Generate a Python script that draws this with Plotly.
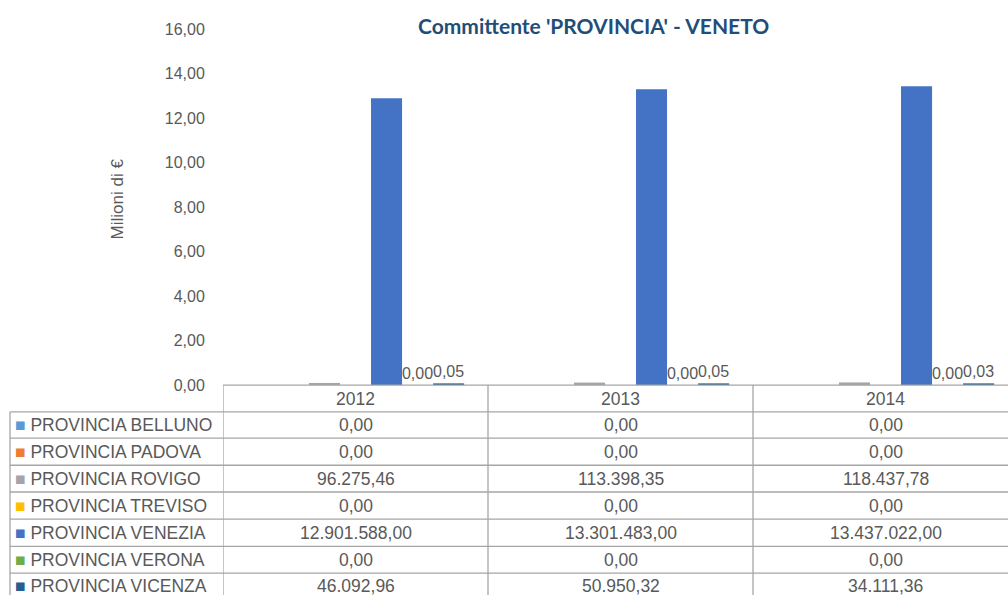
import plotly.graph_objects as go

W, H = 1008, 604

years = ["2012", "2013", "2014"]
series_names = ["PROVINCIA BELLUNO", "PROVINCIA PADOVA", "PROVINCIA ROVIGO",
                "PROVINCIA TREVISO", "PROVINCIA VENEZIA", "PROVINCIA VERONA",
                "PROVINCIA VICENZA"]
belluno = [0.00, 0.00, 0.00]
padova = [0.00, 0.00, 0.00]
rovigo = [96275.46, 113398.35, 118437.78]
treviso = [0.00, 0.00, 0.00]
venezia = [12901588.00, 13301483.00, 13437022.00]
verona = [0.00, 0.00, 0.00]
vicenza = [46092.96, 50950.32, 34111.36]
colors = ["#5B9BD5", "#ED7D31", "#A5A5A5", "#FFC000", "#4472C4", "#70AD47", "#255E91"]
show_labels = [False, False, False, False, False, True, True]
y_ticks = [0, 2, 4, 6, 8, 10, 12, 14, 16]

series_values = [belluno, padova, rovigo, treviso, venezia, verona, vicenza]


def it_num(v):
    s = f"{v:,.2f}"
    return s.replace(",", "X").replace(".", ",").replace("X", ".")


def px_x(p):
    return p / W


def px_y(p):
    return 1 - p / H


TXT = "#595959"
FONT = "Liberation Sans, Arial, sans-serif"
LINE = "#A6A6A6"
TFS = 17.5

fig = go.Figure()
xs = list(range(len(years)))
for name, vals, col, lab in zip(series_names, series_values, colors, show_labels):
    mil = [v / 1e6 for v in vals]
    fig.add_trace(go.Bar(
        x=xs, y=mil, name=name, marker=dict(color=col, line=dict(width=0)),
        text=[it_num(m) for m in mil] if lab else None,
        textposition="outside" if lab else "none",
        textfont=dict(family=FONT, size=16, color=TXT),
        constraintext="none", cliponaxis=False, showlegend=False,
    ))

cat_px = 265.0
x0_px = 223.0
span = (W - x0_px) / cat_px
plot_top, plot_bot = 22.0, 388.0

fig.update_layout(
    width=W, height=H, autosize=False, margin=dict(l=0, r=0, t=0, b=0, pad=0),
    paper_bgcolor="white", plot_bgcolor="white",
    barmode="group", bargap=0.18, bargroupgap=0,
    font=dict(family=FONT, color=TXT),
    xaxis=dict(domain=[px_x(x0_px), 1], range=[-0.5, -0.5 + span],
               showticklabels=False, showgrid=False, zeroline=False,
               showline=False, fixedrange=True),
    yaxis=dict(domain=[px_y(plot_bot), px_y(plot_top)], range=[0, 16],
               tickvals=y_ticks, ticktext=[it_num(t) for t in y_ticks],
               tickfont=dict(family=FONT, size=16, color=TXT),
               showgrid=False, zeroline=False, showline=False, fixedrange=True,
               ticks="outside", ticklen=14, tickcolor="rgba(0,0,0,0)"),
)

fig.add_annotation(xref="paper", yref="paper", x=px_x(593), y=px_y(18),
                   text="<b>Committente 'PROVINCIA' - VENETO</b>", showarrow=False,
                   font=dict(family="Lato, Open Sans, sans-serif", size=21, color="#1F4E79"),
                   xanchor="center", yanchor="middle")
fig.add_annotation(xref="paper", yref="paper", x=px_x(117), y=px_y(197),
                   text="Milioni di €", textangle=-90, showarrow=False,
                   font=dict(family=FONT, size=17, color=TXT),
                   xanchor="center", yanchor="middle")

row_lines = [388, 415.5, 442.5, 470.5, 498, 526, 554, 581.5]
shapes = []
shapes.append(dict(type="line", xref="x", yref="paper", x0=-0.5, x1=-0.5 + span + 1,
                   y0=px_y(388), y1=px_y(388), line=dict(color=LINE, width=1.3)))
for yy in row_lines[1:]:
    shapes.append(dict(type="line", xref="paper", yref="paper", x0=px_x(10), x1=1,
                       y0=px_y(yy), y1=px_y(yy), line=dict(color=LINE, width=1.3)))
shapes.append(dict(type="line", xref="paper", yref="paper", x0=px_x(10), x1=px_x(10),
                   y0=px_y(415.5), y1=0, line=dict(color=LINE, width=1.3)))
for b in [-0.5, 0.5, 1.5]:
    shapes.append(dict(type="line", xref="x", yref="paper", x0=b, x1=b,
                       y0=px_y(388), y1=0, line=dict(color=LINE, width=1.3)))
fig.update_layout(shapes=shapes)

for i, yr in enumerate(years):
    fig.add_annotation(xref="x", yref="paper", x=i, y=px_y(402), text=yr,
                       showarrow=False, font=dict(family=FONT, size=TFS, color=TXT),
                       xanchor="center", yanchor="middle")

row_centers = [(row_lines[k] + row_lines[k + 1]) / 2 for k in range(1, len(row_lines) - 1)]
row_centers.append(595)
for k, (name, vals, col) in enumerate(zip(series_names, series_values, colors)):
    yc = px_y(row_centers[k])
    fig.add_annotation(xref="paper", yref="paper", x=px_x(13), y=yc,
                       text=f'<span style="color:{col}">■</span> {name}',
                       showarrow=False, font=dict(family=FONT, size=TFS, color=TXT),
                       xanchor="left", yanchor="middle")
    for i, v in enumerate(vals):
        fig.add_annotation(xref="x", yref="paper", x=i, y=yc, text=it_num(v),
                           showarrow=False, font=dict(family=FONT, size=TFS, color=TXT),
                           xanchor="center", yanchor="middle")

fig.write_html("out.html", config={"displayModeBar": False, "responsive": False},
               post_script="document.body.style.margin='0px';document.body.style.overflow='hidden';")
